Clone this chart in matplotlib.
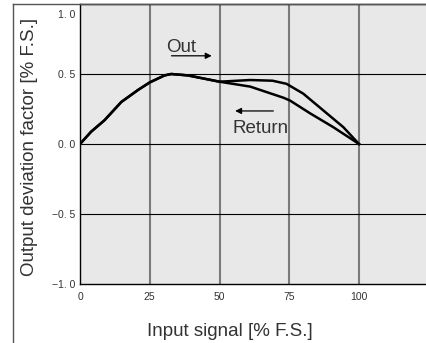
import matplotlib.pyplot as plt
from matplotlib.lines import Line2D
from matplotlib.transforms import ScaledTranslation

plt.rcParams['font.family'] = ['Liberation Sans', 'DejaVu Sans']

# outgoing stroke, 0 -> 100 % F.S.
out_x = [0, 4, 8.8, 14.8, 20.8, 25, 30.3, 32.7, 38.7, 50, 61, 69, 74, 80, 88.4, 94.4, 100]
out_y = [0, 0.088, 0.17, 0.30, 0.386, 0.44, 0.49, 0.50, 0.49, 0.445, 0.457, 0.452, 0.43, 0.36, 0.22, 0.12, 0]

# return stroke, 100 -> 0 % F.S.
ret_x = [100, 90.8, 82.4, 75.3, 73, 61, 50, 38.7, 32.7, 30.3, 25, 20.8, 14.8, 8.8, 4, 0]
ret_y = [0, 0.12, 0.22, 0.31, 0.33, 0.41, 0.445, 0.49, 0.50, 0.49, 0.44, 0.386, 0.30, 0.17, 0.088, 0]

x_ticks = [0, 25, 50, 75, 100]
y_ticks = [1.0, 0.5, 0.0, -0.5, -1.0]
y_tick_labels = ['1. 0', '0. 5', '0. 0', '\u22120. 5', '\u22121. 0']

W, H = 426, 343
fig = plt.figure(figsize=(W / 100, H / 100), dpi=100)
ax = fig.add_axes([80 / W, (H - 284) / H, (W - 80) / W, 280 / H])
ax.set_facecolor('#e8e8e8')
ax.set_xlim(0, (W - 80) / 2.79)
ax.set_ylim(-1, 1)

for xv in x_ticks[1:]:
    ax.axvline(xv, color='#7a7a7a', lw=1.5, zorder=1)
for yv in [0.5, 0.0, -0.5]:
    ax.axhline(yv, color='black', lw=0.8, zorder=2)

ax.plot(out_x, out_y, color='black', lw=1.8, zorder=3)
ax.plot(ret_x, ret_y, color='black', lw=1.8, zorder=3)

# direction arrows
ax.annotate('', xy=(47.2, 0.63), xytext=(32.8, 0.63),
            arrowprops=dict(arrowstyle='-|>', color='black', lw=0.9,
                            mutation_scale=9, shrinkA=0, shrinkB=0))
ax.text(36.1, 0.66, 'Out', ha='center', va='baseline', fontsize=13.5, color='#333333')
ax.annotate('', xy=(55.6, 0.236), xytext=(69.3, 0.236),
            arrowprops=dict(arrowstyle='-|>', color='black', lw=0.9,
                            mutation_scale=9, shrinkA=0, shrinkB=0))
ax.text(64.7, 0.08, 'Return', ha='center', va='baseline', fontsize=13.5, color='#333333')

ax.set_xticks(x_ticks)
ax.set_yticks(y_ticks)
ax.set_yticklabels(y_tick_labels)
ax.tick_params(length=0, labelsize=7.5, labelcolor='#333333')
ax.tick_params(axis='y', pad=3.5)
ax.tick_params(axis='x', pad=6)
# keep the top label inside the frame
top_lbl = ax.get_yticklabels()[0]
top_lbl.set_transform(top_lbl.get_transform() + ScaledTranslation(0, -0.1, fig.dpi_scale_trans))

ax.spines['right'].set_visible(False)
for side in ['left', 'bottom', 'top']:
    ax.spines[side].set_color('black')
    ax.spines[side].set_linewidth(1.0)

fig.text(29.5 / W, 1 - 146.5 / H, 'Output deviation factor [% F.S.]', rotation=90,
         ha='center', va='center', fontsize=13.5, color='#333333')
fig.text(229.8 / W, 7 / H, 'Input signal [% F.S.]', ha='center', va='baseline',
         fontsize=13.5, color='#333333')

# outer frame on the left and top
fig.add_artist(Line2D([13 / W, 13 / W], [0, 1 - 4 / H], color='#555555', lw=1.0))
fig.add_artist(Line2D([13 / W, 1], [1 - 4 / H, 1 - 4 / H], color='#555555', lw=1.0))

fig.savefig('out.png', dpi=100)
